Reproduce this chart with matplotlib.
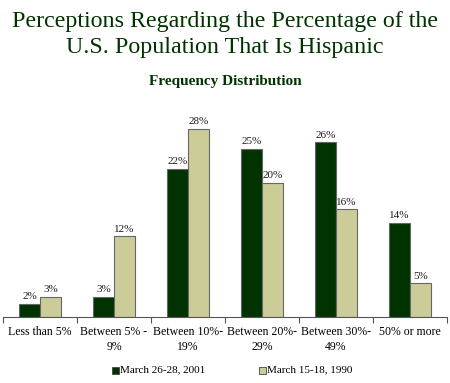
import matplotlib
matplotlib.use("Agg")
import matplotlib.pyplot as plt
import numpy as np
from matplotlib.patches import Rectangle

categories = ["Less than 5%", "Between 5% -\n9%", "Between 10%-\n19%", "Between 20%-\n29%", "Between 30%-\n49%", "50% or more"]
series_names = ["March 26-28, 2001", "March 15-18, 1990"]
values_2001 = [2, 3, 22, 25, 26, 14]
values_1990 = [3, 12, 28, 20, 16, 5]
colors = ["#003300", "#CCCC99"]

plt.rcParams['font.family'] = ['Liberation Serif', 'DejaVu Serif']

fig = plt.figure(figsize=(4.5, 3.83), dpi=100)
W, H = 450, 383
# axes: x from 3 to 447 px, baseline at y=317, top at y=110
ax = fig.add_axes([3 / W, 1 - 317 / H, 444 / W, (317 - 110) / H])
n = len(categories)
x = np.arange(n)
bw = 0.284
ax.bar(x - bw / 2, values_2001, bw, color=colors[0], edgecolor="#666666", linewidth=0.8)
ax.bar(x + bw / 2, values_1990, bw, color=colors[1], edgecolor="#666666", linewidth=0.8)
ax.set_ylim(0, 30.8)
ax.set_xlim(-0.5, n - 0.5)
for i, v in enumerate(values_2001):
    ax.text(x[i] - bw / 2, v + 0.4, f"{v}%", ha="center", va="bottom", fontsize=8, color="#1a1a1a")
for i, v in enumerate(values_1990):
    ax.text(x[i] + bw / 2, v + 0.4, f"{v}%", ha="center", va="bottom", fontsize=8, color="#1a1a1a")

for s in ["top", "right", "left"]:
    ax.spines[s].set_visible(False)
ax.spines["bottom"].set_color("#555555")
ax.spines["bottom"].set_linewidth(0.8)
ax.set_yticks([])
ax.set_xticks(np.arange(n + 1) - 0.5, minor=False)
ax.set_xticklabels([])
ax.tick_params(axis="x", length=4, color="#555555", direction="out", width=0.8)
for i, c in enumerate(categories):
    ax.text(x[i], -1.4, c, ha="center", va="top", fontsize=8.5, color="black", linespacing=1.3)

fig.text(0.5, 1 - 21 / H, "Perceptions Regarding the Percentage of the", ha="center", va="center",
         fontsize=17.3, color="#003300")
fig.text(0.5, 1 - 48 / H, "U.S. Population That Is Hispanic", ha="center", va="center",
         fontsize=17.3, color="#003300")
fig.text(0.5, 1 - 82 / H, "Frequency Distribution", ha="center", va="center",
         fontsize=11, fontweight="bold", color="#003300")

# legend
ly = 1 - 370 / H
for (lx, name, col) in [(112, series_names[0], colors[0]), (259, series_names[1], colors[1])]:
    fig.patches.append(Rectangle((lx / W, ly - 3.5 / H), 7 / W, 7 / H, transform=fig.transFigure,
                                 facecolor=col, edgecolor="#444444", linewidth=0.6))
    fig.text((lx + 8) / W, ly, name, ha="left", va="center", fontsize=8, color="black")

fig.savefig("out.png", dpi=100)
